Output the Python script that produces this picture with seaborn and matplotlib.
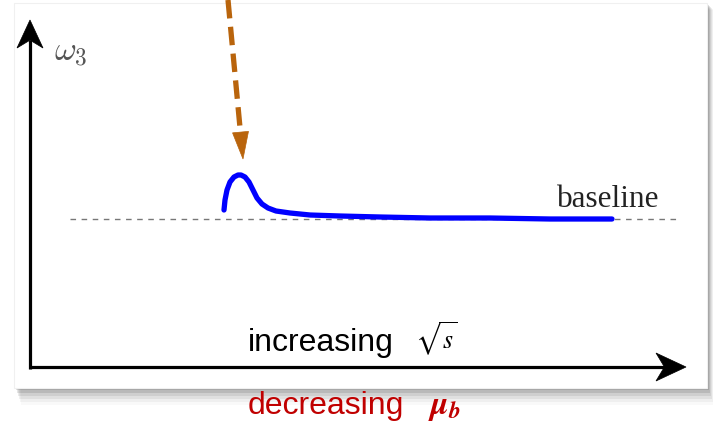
import numpy as np
import pandas as pd
import matplotlib
matplotlib.use("Agg")
import matplotlib.pyplot as plt
from matplotlib.patches import Rectangle, Polygon
import seaborn as sns

# ---- data (schematic, in canvas units) ----
curve_x = [224, 225, 227, 230, 234, 238, 241, 245, 249, 253, 257, 262, 268, 276, 290,
           310, 340, 380, 430, 490, 550, 612]
curve_y = [210, 200, 190, 182, 177, 175, 175, 177, 182, 190, 198, 204, 208, 211, 213,
           215, 216, 217, 218, 218, 219, 219]
baseline_level = 219
baseline_span = [70, 680]
y_label = r"$\omega_3$"
baseline_label = "baseline"
x_label = "increasing"
x_label_math = r"$\sqrt{s}$"
x_label2 = "decreasing"
x_label2_math = r"$\mathbfit{\mu_b}$"

sns.set_theme(style="white")
plt.rcParams["font.family"] = ["Liberation Sans", "DejaVu Sans"]
plt.rcParams["mathtext.fontset"] = "cm"

fig = plt.figure(figsize=(7.13, 4.22), dpi=100)
ax = fig.add_axes([0, 0, 1, 1])


def arrow_head(ax, tip, direction, length, width, color, notch_frac=0.72, z=5):
    d = np.asarray(direction, float)
    d /= np.hypot(*d)
    n = np.array([-d[1], d[0]])
    tip = np.asarray(tip, float)
    back = tip - d * length
    notch = tip - d * length * notch_frac
    pts = [tip, back + n * width / 2, notch, back - n * width / 2]
    ax.add_patch(Polygon(pts, closed=True, facecolor=color, edgecolor=color,
                         lw=0.5, zorder=z))


# slide box with drop shadow
for i, a in enumerate([0.12, 0.10, 0.08, 0.06, 0.04, 0.025]):
    ax.add_patch(Rectangle((16 + i, 5 + i), 693, 385 + 2 * i, facecolor="black",
                           alpha=a, edgecolor="none", zorder=0))
ax.add_patch(Rectangle((14, 3), 693, 385, facecolor="white", edgecolor="#f0f0f0",
                       lw=0.8, zorder=1))

# axes arrows
ax.plot([30, 30], [369, 40], color="black", lw=2.3, zorder=3, solid_capstyle="butt")
arrow_head(ax, (30, 20), (0, -1), 28, 26, "black")
ax.plot([29, 665], [367, 367], color="black", lw=2.3, zorder=3, solid_capstyle="butt")
arrow_head(ax, (686, 367), (1, 0), 30, 28, "black")

# baseline
ax.hlines(baseline_level, baseline_span[0], baseline_span[1], colors="#777777",
          linestyles=(0, (4, 4)), lw=1.0, zorder=2)

# curve
df = pd.DataFrame({"x": curve_x, "y": curve_y})
sns.lineplot(data=df, x="x", y="y", ax=ax, color="#0000ff", lw=3.8, sort=False,
             solid_capstyle="round", solid_joinstyle="round", zorder=4)

# orange dashed arrow
orange = "#b9640c"
ax.plot([228, 240.6], [0, 134], color=orange, lw=3.8, linestyle=(0, (3.5, 1.6)),
        zorder=4, dash_capstyle="butt")
arrow_head(ax, (243, 159), (2.5, 27), 27, 16, orange, notch_frac=1.0)

# texts
ax.text(54, 52, y_label, fontsize=24, color="#555555", va="center", ha="left", zorder=5)
ax.text(557, 207, baseline_label, fontsize=22.5, family="Liberation Serif",
        color="#222222", va="baseline", ha="left", zorder=5)
ax.text(248, 351, x_label, fontsize=23, color="black", va="baseline", ha="left", zorder=5)
ax.text(415, 349, x_label_math, fontsize=18.5, color="black", va="baseline", ha="left",
        math_fontfamily="stix", zorder=5)
red = "#c00000"
ax.text(248, 414, x_label2, fontsize=23, color=red, va="baseline", ha="left", zorder=5)
ax.text(428, 414, x_label2_math, fontsize=24, color=red, va="baseline", ha="left",
        math_fontfamily="stix", zorder=5)

ax.set_xlim(0, 713)
ax.set_ylim(422, 0)
ax.axis("off")

fig.savefig("out.png", dpi=100)
